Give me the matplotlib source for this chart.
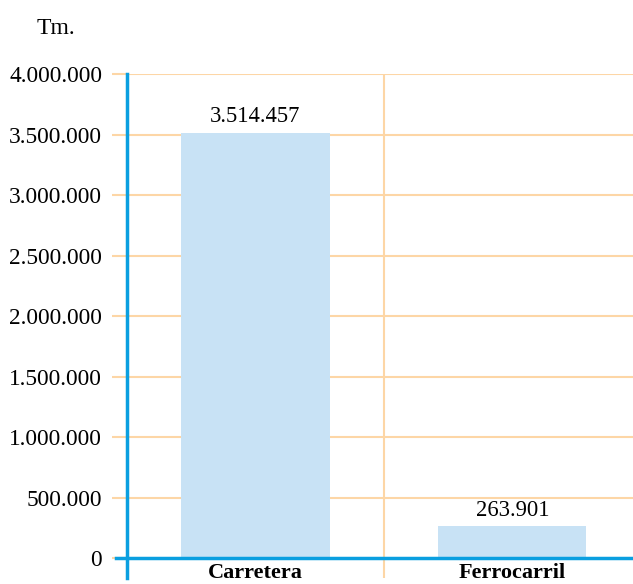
import matplotlib
matplotlib.use("Agg")
import matplotlib.pyplot as plt
from matplotlib.ticker import FuncFormatter

categories = ["Carretera", "Ferrocarril"]
values = [3514457, 263901]
yticks = [0, 500000, 1000000, 1500000, 2000000, 2500000, 3000000, 3500000, 4000000]

BLUE = "#0a9fe0"
BAR = "#c8e2f5"
GRID = "#fdd6a6"

plt.rcParams["font.family"] = ["Liberation Serif", "DejaVu Serif"]

def miles(v, pos=None):
    return f"{int(round(v)):,}".replace(",", ".")

fig = plt.figure(figsize=(6.33, 5.84), dpi=100)
ax = fig.add_axes([127 / 633, 1 - 578 / 584, (633 - 127) / 633, (578 - 74) / 584])

x = range(len(categories))
ax.bar(x, values, width=0.576, color=BAR, zorder=2)

ax.set_xlim(-0.5, 1.469)
ax.set_ylim(-165000, 4000000)

ax.set_yticks(yticks)
ax.yaxis.set_major_formatter(FuncFormatter(miles))
ax.tick_params(axis="y", length=11, width=1.5, color=GRID, pad=7, labelsize=16.8)
ax.set_xticks([])

for yv in yticks[1:]:
    ax.axhline(yv, color=GRID, lw=1.5, zorder=1)
ax.axvline(0.5, color=GRID, lw=1.5, zorder=1)

for s in ("top", "right", "bottom"):
    ax.spines[s].set_visible(False)
ax.spines["left"].set_color(BLUE)
ax.spines["left"].set_linewidth(2.5)

# baseline, extending left of the axis like the tick marks
ax.plot([-0.5 - 11 / 257, 1.469], [0, 0], color=BLUE, lw=2.5, clip_on=False, zorder=3)

for xi, v in zip(x, values):
    ax.annotate(miles(v), (xi, v), xytext=(0, 4), textcoords="offset points",
                ha="center", va="bottom", fontsize=16.3)

# category names sit just under the baseline
for xi, c in zip(x, categories):
    ax.annotate(c, (xi, 0), xytext=(0, -18.2), textcoords="offset points",
                ha="center", va="bottom", fontsize=16, fontweight="bold", zorder=4)

fig.text(37 / 633, 1 - 34 / 584, "Tm.", fontsize=17, ha="left", va="baseline")

fig.savefig("out.png", dpi=100)
